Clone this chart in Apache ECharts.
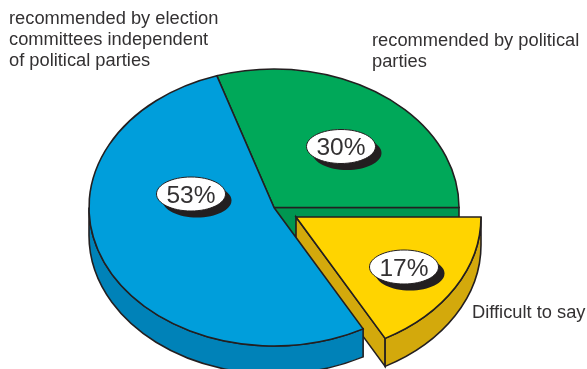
<!DOCTYPE html>
<html>
<head>
<meta charset="utf-8">
<style>html,body{margin:0;padding:0;background:#fff}#chart{width:587px;height:369px}</style>
<script src="https://cdn.jsdelivr.net/npm/echarts@6/dist/echarts.min.js"></script>
</head>
<body>
<div id="chart"></div>
<script>
// Survey shares, in the order they run counter-clockwise from due east.
const categories = [
  'recommended by political\nparties',
  'recommended by election\ncommittees independent\nof political parties',
  'Difficult to say'
];
const shares = [30, 53, 17];
const shareLabels = ['30%', '53%', '17%'];

// Slice colours: top face and side wall.
const topColors = ['#00A859', '#009EDB', '#FFD400'];
const wallColors = ['#009651', '#0082B8', '#D3A90C'];

// Pulled-out slices, as a pixel offset from the pie centre.
const explodeOffsets = [[0, 0], [0, 0], [22, 9.5]];
// Paint order from the back of the pie to the front.
const paintOrder = [0, 2, 1];
// Badge centres relative to the pie centre, and text anchors for the captions.
const badgeOffsets = [[67, -61], [-83, -13.5], [130, 59.5]];
const captionAnchors = [[372, 30], [9, 8.5], [472, 302.5]];

const INK = '#231F20';
const CX = 274, CY = 207.5, RX = 185, RY = 138.5, DEPTH = 28;
const BADGE_RX = 34.5, BADGE_RY = 17;

const point = (ox, oy, deg) => {
  const t = deg * Math.PI / 180;
  return [CX + ox + RX * Math.cos(t), CY + oy - RY * Math.sin(t)];
};

// Elliptical arc between two angles, drawn in either direction.
const arcTo = (ox, oy, dy, from, to) => {
  const [x, y] = point(ox, oy + dy, to);
  const large = Math.abs(to - from) > 180 ? 1 : 0;
  const sweep = to > from ? 0 : 1;
  return `A ${RX} ${RY} 0 ${large} ${sweep} ${x} ${y}`;
};

function renderSlice(params, api) {
  const i = params.dataIndex;
  const value = api.value(0);
  const total = shares.reduce((a, b) => a + b, 0);
  const startShare = shares.slice(0, i).reduce((a, b) => a + b, 0);
  const from = startShare / total * 360;
  const to = from + value / total * 360;
  const [ox, oy] = explodeOffsets[i];
  const layer = paintOrder.indexOf(i) * 4;
  const lineStyle = { stroke: INK, lineWidth: 1.6, lineJoin: 'miter' };
  const children = [];
  const cx = CX + ox, cy = CY + oy;

  // Radial wall along the eastern cut: it shows only where a pulled slice leaves a gap.
  if (from === 0) {
    const [ex, ey] = point(ox, oy, 0);
    children.push({
      type: 'path', z2: layer,
      shape: { pathData: `M ${cx} ${cy} L ${ex} ${ey} L ${ex} ${ey + DEPTH} L ${cx} ${cy + DEPTH} Z` },
      style: { fill: wallColors[i], ...lineStyle }
    });
  }
  // Radial wall along the western cut of a slice facing the viewer.
  if (to === 360 || ox !== 0) {
    const [sx, sy] = point(ox, oy, from);
    children.push({
      type: 'path', z2: layer,
      shape: { pathData: `M ${cx} ${cy} L ${sx} ${sy} L ${sx} ${sy + DEPTH} L ${cx} ${cy + DEPTH} Z` },
      style: { fill: wallColors[i], ...lineStyle }
    });
  }
  // Outer wall: only the part of the rim on the near half of the ellipse.
  const wallFrom = Math.max(from, 180), wallTo = Math.min(to, 360);
  if (wallTo > wallFrom) {
    const [ax, ay] = point(ox, oy, wallFrom);
    const [bx, by] = point(ox, oy, wallTo);
    children.push({
      type: 'path', z2: layer + 1,
      shape: {
        pathData: `M ${ax} ${ay} ${arcTo(ox, oy, 0, wallFrom, wallTo)} L ${bx} ${by + DEPTH} ` +
          `${arcTo(ox, oy, DEPTH, wallTo, wallFrom)} Z`
      },
      style: { fill: wallColors[i], ...lineStyle }
    });
  }
  // Top face.
  const [sx, sy] = point(ox, oy, from);
  children.push({
    type: 'path', z2: layer + 2,
    shape: { pathData: `M ${cx} ${cy} L ${sx} ${sy} ${arcTo(ox, oy, 0, from, to)} Z` },
    style: { fill: topColors[i], ...lineStyle }
  });

  // Value badge: white ellipse over a black drop shadow.
  const bx = CX + badgeOffsets[i][0], by = CY + badgeOffsets[i][1];
  children.push({
    type: 'ellipse', z2: 20,
    shape: { cx: bx + 6, cy: by + 6.5, rx: BADGE_RX, ry: BADGE_RY },
    style: { fill: INK }
  });
  children.push({
    type: 'ellipse', z2: 21,
    shape: { cx: bx, cy: by, rx: BADGE_RX, ry: BADGE_RY },
    style: { fill: '#fff', stroke: INK, lineWidth: 1 }
  });
  children.push({
    type: 'text', z2: 22,
    style: {
      x: bx, y: by + 2, text: shareLabels[i], fill: '#333132',
      font: '24.5px "Liberation Sans", Arial, sans-serif',
      textAlign: 'center', textVerticalAlign: 'middle'
    }
  });
  // Caption beside the pie.
  children.push({
    type: 'text', z2: 22,
    style: {
      x: captionAnchors[i][0], y: captionAnchors[i][1], text: categories[i], fill: '#333132',
      font: '18.3px "Liberation Sans", Arial, sans-serif', lineHeight: 21,
      textAlign: 'left', textVerticalAlign: 'top'
    }
  });
  return { type: 'group', children };
}

const chart = echarts.init(document.getElementById('chart'), null, { renderer: 'canvas' });
chart.setOption({
  animation: false,
  backgroundColor: '#fff',
  series: [{
    type: 'custom',
    coordinateSystem: 'none',
    clip: false,
    renderItem: renderSlice,
    data: shares.map((v, i) => ({ name: categories[i], value: [v] }))
  }]
});
</script>
</body>
</html>
